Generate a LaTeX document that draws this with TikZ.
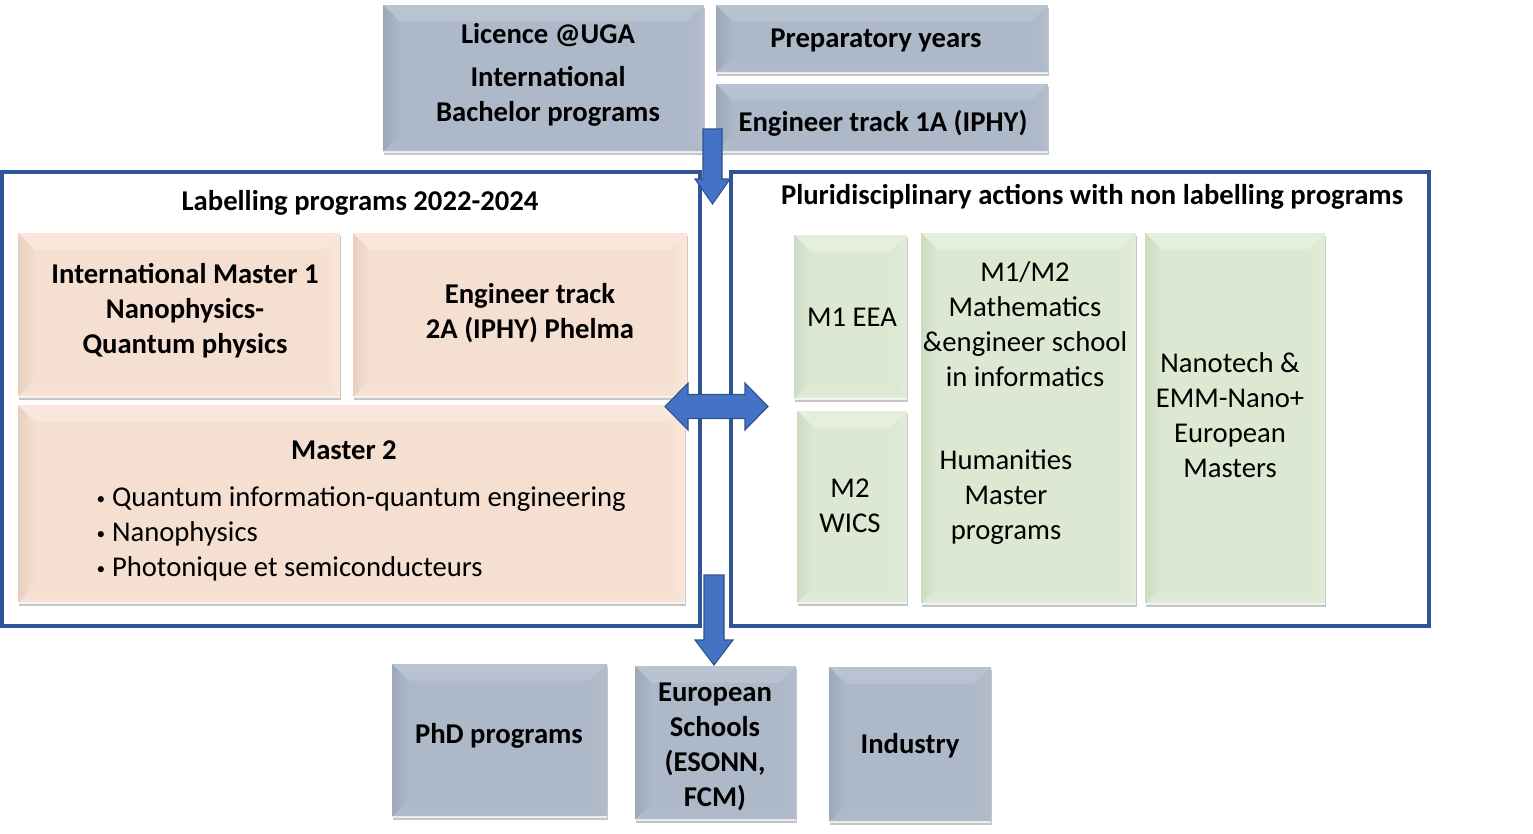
\documentclass[tikz,border=0pt]{standalone}
\usepackage{fontspec}
\setmainfont{Carlito}
\usetikzlibrary{shadows}
\definecolor{frameblue}{HTML}{2F5597}
\definecolor{arrowfill}{HTML}{4472C4}
\definecolor{arrowline}{HTML}{2F528F}
\definecolor{gBase}{HTML}{ADB8C9}
\definecolor{gTop}{HTML}{B9C3D1}
\definecolor{gLeft}{HTML}{9CA7B8}
\definecolor{gRight}{HTML}{B3BDCB}
\definecolor{gBot}{HTML}{B0BACA}
\definecolor{oBase}{HTML}{F5DFD1}
\definecolor{oTop}{HTML}{FAE7DB}
\definecolor{oLeft}{HTML}{E8CFC0}
\definecolor{oRight}{HTML}{FBE7DA}
\definecolor{oBot}{HTML}{F7E2D5}
\definecolor{vBase}{HTML}{DCE8D2}
\definecolor{vTop}{HTML}{E5EFDD}
\definecolor{vLeft}{HTML}{CEDBC3}
\definecolor{vRight}{HTML}{E2ECD9}
\definecolor{vBot}{HTML}{DFEAD6}
\def\ppb{path picture bounding box}
\def\bv{12.5pt}
\tikzset{
  every node/.style={font=\fontsize{21.5}{26.2}\selectfont, text=black},
  boldtext/.style={font=\fontsize{21.5}{26.2}\selectfont\bfseries, align=center},
  plaintext/.style={font=\fontsize{21.5}{26.2}\selectfont, align=center},
  bev/.style n args={5}{fill=#1, inner sep=0pt, outer sep=0pt,
    drop shadow={shadow xshift=0.6pt, shadow yshift=-2.6pt, opacity=0.3, fill=black!75},
    path picture={
      \shade[top color=#2, bottom color=#1] (\ppb.north west) -- (\ppb.north east) -- ([shift={(-\bv,-\bv)}]\ppb.north east) -- ([shift={(\bv,-\bv)}]\ppb.north west) -- cycle;
      \shade[left color=#3, right color=#1] (\ppb.north west) -- ([shift={(\bv,-\bv)}]\ppb.north west) -- ([shift={(\bv,\bv)}]\ppb.south west) -- (\ppb.south west) -- cycle;
      \shade[left color=#1, right color=#4] (\ppb.north east) -- (\ppb.south east) -- ([shift={(-\bv,\bv)}]\ppb.south east) -- ([shift={(-\bv,-\bv)}]\ppb.north east) -- cycle;
      \shade[top color=#1, bottom color=#5] (\ppb.south west) -- ([shift={(\bv,\bv)}]\ppb.south west) -- ([shift={(-\bv,\bv)}]\ppb.south east) -- (\ppb.south east) -- cycle;
      \draw[white, opacity=0.7, line width=1.2pt] (\ppb.south west) -- (\ppb.south east);
    }},
  graybox/.style={bev={gBase}{gTop}{gLeft}{gRight}{gBot}},
  orangebox/.style={bev={oBase}{oTop}{oLeft}{oRight}{oBot}},
  greenbox/.style={bev={vBase}{vTop}{vLeft}{vRight}{vBot}},
  frame/.style={draw=frameblue, line width=2.3pt, inner sep=0pt, outer sep=0pt},
  blockarrow/.style={fill=arrowfill, draw=arrowline, line width=0.8pt, line join=miter}
}
\newcommand\bbox[6]{\node[#6, minimum width={(#4-#2)*0.75pt}, minimum height={(#5-#3)*0.75pt}] (#1) at ({(#2+#4)/2},{(#3+#5)/2}) {};}
\newcommand\smallbullet{\raisebox{1.5pt}{\fontsize{13}{13}\selectfont\textbullet}\hspace{5pt}}
\begin{document}
\begin{tikzpicture}[x=0.75pt, y=-0.75pt]
\useasboundingbox (0,0) rectangle (1533,833);
% top boxes
\bbox{licence}{383}{5}{704}{152}{graybox}
\bbox{prep}{716}{5}{1048}{73}{graybox}
\bbox{engone}{716}{84}{1048}{152}{graybox}
\node[boldtext] (licence-t) at (548,75) {Licence @UGA\\[6pt]International\\Bachelor programs};
\node[boldtext] (prep-t) at (876,40) {Preparatory years};
\node[boldtext] (engone-t) at (883,123) {Engineer track 1A (IPHY)};
% frames
\bbox{leftframe}{2}{172}{700}{626}{frame}
\bbox{rightframe}{731}{172}{1429}{626}{frame}
\node[boldtext] (left-title) at (360,203) {Labelling programs 2022-2024};
\node[boldtext] (right-title) at (1092,197) {Pluridisciplinary actions with non labelling programs};
% orange boxes
\bbox{imone}{18}{233}{340}{397}{orangebox}
\bbox{engtwo}{353}{233}{687}{397}{orangebox}
\bbox{mtwo}{18}{405}{685}{603}{orangebox}
\node[boldtext] (imone-t) at (185,311) {International Master 1\\Nanophysics-\\Quantum physics};
\node[boldtext] (engtwo-t) at (530,313) {Engineer track\\2A (IPHY) Phelma};
\node[boldtext] (mtwo-t) at (344,450) {Master 2};
\node[plaintext, align=left, anchor=west] (mtwo-list) at (92,534) {\smallbullet Quantum information-quantum engineering\\\smallbullet Nanophysics\\\smallbullet Photonique et semiconducteurs};
% green boxes
\bbox{eea}{794}{235}{907}{399}{greenbox}
\bbox{wics}{797}{411}{907}{603}{greenbox}
\bbox{math}{921}{233}{1136}{604}{greenbox}
\bbox{nano}{1145}{233}{1325}{604}{greenbox}
\node[plaintext] (eea-t) at (852,317) {M1 EEA};
\node[plaintext] (wics-t) at (850,506) {M2\\WICS};
\node[plaintext] (math-t) at (1025,324) {M1/M2\\Mathematics\\\&engineer school\\in informatics};
\node[plaintext] (hum-t) at (1006,497) {Humanities\\Master\\programs};
\node[plaintext] (nano-t) at (1230,415) {Nanotech \&\\EMM-Nano+\\European\\Masters};
% bottom boxes
\bbox{phd}{392}{664}{607}{817}{graybox}
\bbox{euro}{635}{666}{796}{820}{graybox}
\bbox{ind}{829}{667}{991}{822}{graybox}
\node[boldtext] (phd-t) at (499,736) {PhD programs};
\node[boldtext] (euro-t) at (715,747) {European\\Schools\\(ESONN,\\FCM)};
\node[boldtext] (ind-t) at (910,746) {Industry};
% block arrows
\draw[blockarrow] (703,129) -- (722,129) -- (722,179) -- (730,179) -- (712.5,204) -- (695,179) -- (703,179) -- cycle;
\draw[blockarrow] (665,406.5) -- (688,383) -- (688,394.5) -- (745,394.5) -- (745,383) -- (768,406.5) -- (745,430) -- (745,418.5) -- (688,418.5) -- (688,430) -- cycle;
\draw[blockarrow] (704,575) -- (724,575) -- (724,640) -- (733,640) -- (714,665) -- (695,640) -- (704,640) -- cycle;
\end{tikzpicture}
\end{document}
